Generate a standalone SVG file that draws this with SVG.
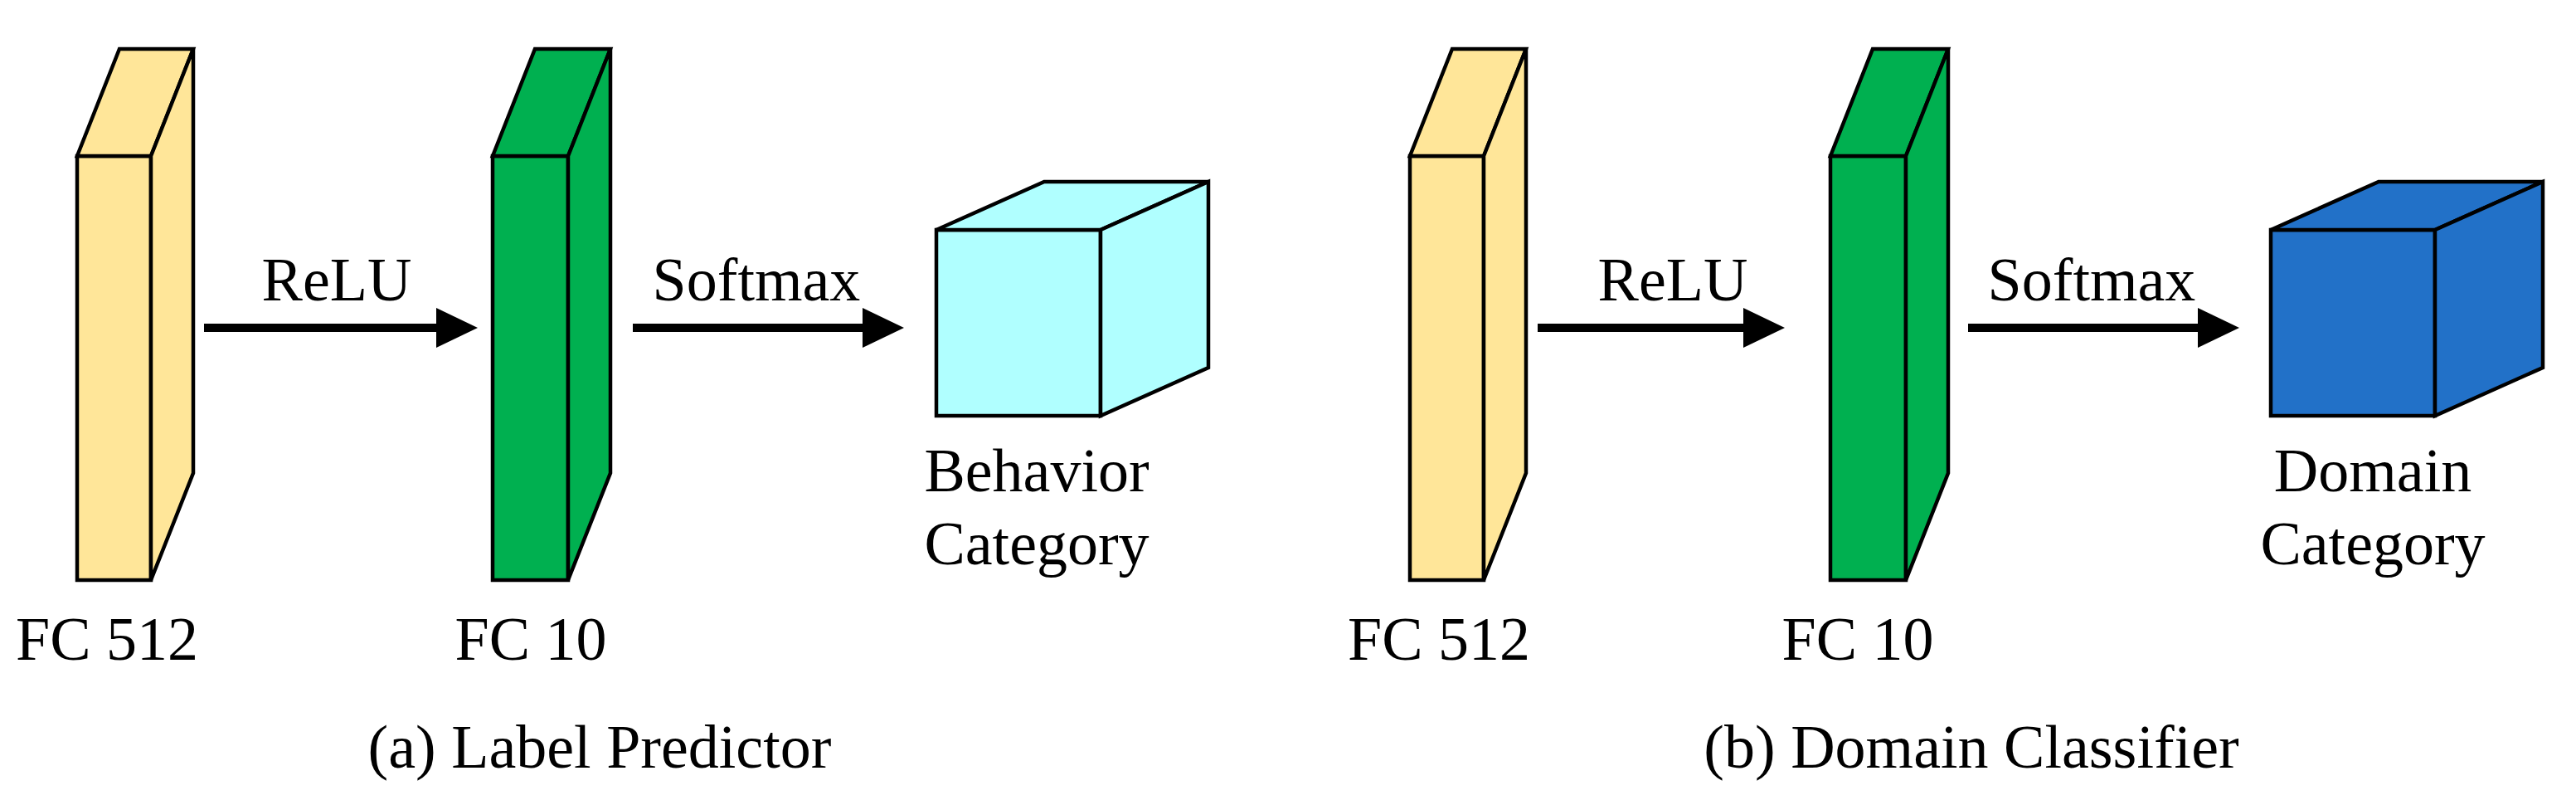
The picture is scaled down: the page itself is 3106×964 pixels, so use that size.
<svg xmlns="http://www.w3.org/2000/svg" width="3106" height="964" viewBox="0 0 3106 964">
<style>
.s{stroke:#000;stroke-width:4.5;stroke-linejoin:miter}
.y{fill:#FFE699}.g{fill:#00B050}.c{fill:#B0FFFF}.b{fill:#2271C8}
text{font-family:"Liberation Serif","Times New Roman",serif;font-size:74px;fill:#000;text-anchor:middle}
.ln{stroke:#000;stroke-width:10}
</style>
<rect width="3106" height="964" fill="#fff"/>
<g id="fc512a"><rect class="s y" x="93" y="188" width="89" height="511"/><polygon class="s y" points="93,188 144,59 233,59 182,188"/><polygon class="s y" points="182,188 233,59 233,570 182,699"/><text x="129" y="795">FC 512</text></g>
<g id="fc10a"><rect class="s g" x="594" y="188" width="91" height="511"/><polygon class="s g" points="594,188 645,59 736,59 685,188"/><polygon class="s g" points="685,188 736,59 736,570 685,699"/><text x="640" y="795">FC 10</text></g>
<g id="cubea"><rect class="s c" x="1129" y="277" width="198" height="224"/><polygon class="s c" points="1129,277 1259,219 1457,219 1327,277"/><polygon class="s c" points="1327,277 1457,219 1457,443 1327,501"/><text x="1250" y="592">Behavior</text><text x="1250" y="680">Category</text></g>
<g id="fc512b"><rect class="s y" x="1700" y="188" width="89" height="511"/><polygon class="s y" points="1700,188 1751,59 1840,59 1789,188"/><polygon class="s y" points="1789,188 1840,59 1840,570 1789,699"/><text x="1735" y="795">FC 512</text></g>
<g id="fc10b"><rect class="s g" x="2207" y="188" width="91" height="511"/><polygon class="s g" points="2207,188 2258,59 2349,59 2298,188"/><polygon class="s g" points="2298,188 2349,59 2349,570 2298,699"/><text x="2240" y="795">FC 10</text></g>
<g id="cubeb"><rect class="s b" x="2738" y="277" width="198" height="224"/><polygon class="s b" points="2738,277 2868,219 3066,219 2936,277"/><polygon class="s b" points="2936,277 3066,219 3066,443 2936,501"/><text x="2861" y="592">Domain</text><text x="2861" y="680">Category</text></g>
<g id="connectors">
<line class="ln" x1="246" y1="395" x2="530" y2="395"/><polygon points="526,371 576,395 526,419"/><text x="406" y="362">ReLU</text>
<line class="ln" x1="763" y1="395" x2="1044" y2="395"/><polygon points="1040,371 1090,395 1040,419"/><text x="912" y="362">Softmax</text>
<line class="ln" x1="1854" y1="395" x2="2106" y2="395"/><polygon points="2102,371 2152,395 2102,419"/><text x="2017" y="362">ReLU</text>
<line class="ln" x1="2373" y1="395" x2="2654" y2="395"/><polygon points="2650,371 2700,395 2650,419"/><text x="2522" y="362">Softmax</text>
</g>
<text x="723" y="925">(a) Label Predictor</text>
<text x="2377" y="925">(b) Domain Classifier</text>
</svg>
